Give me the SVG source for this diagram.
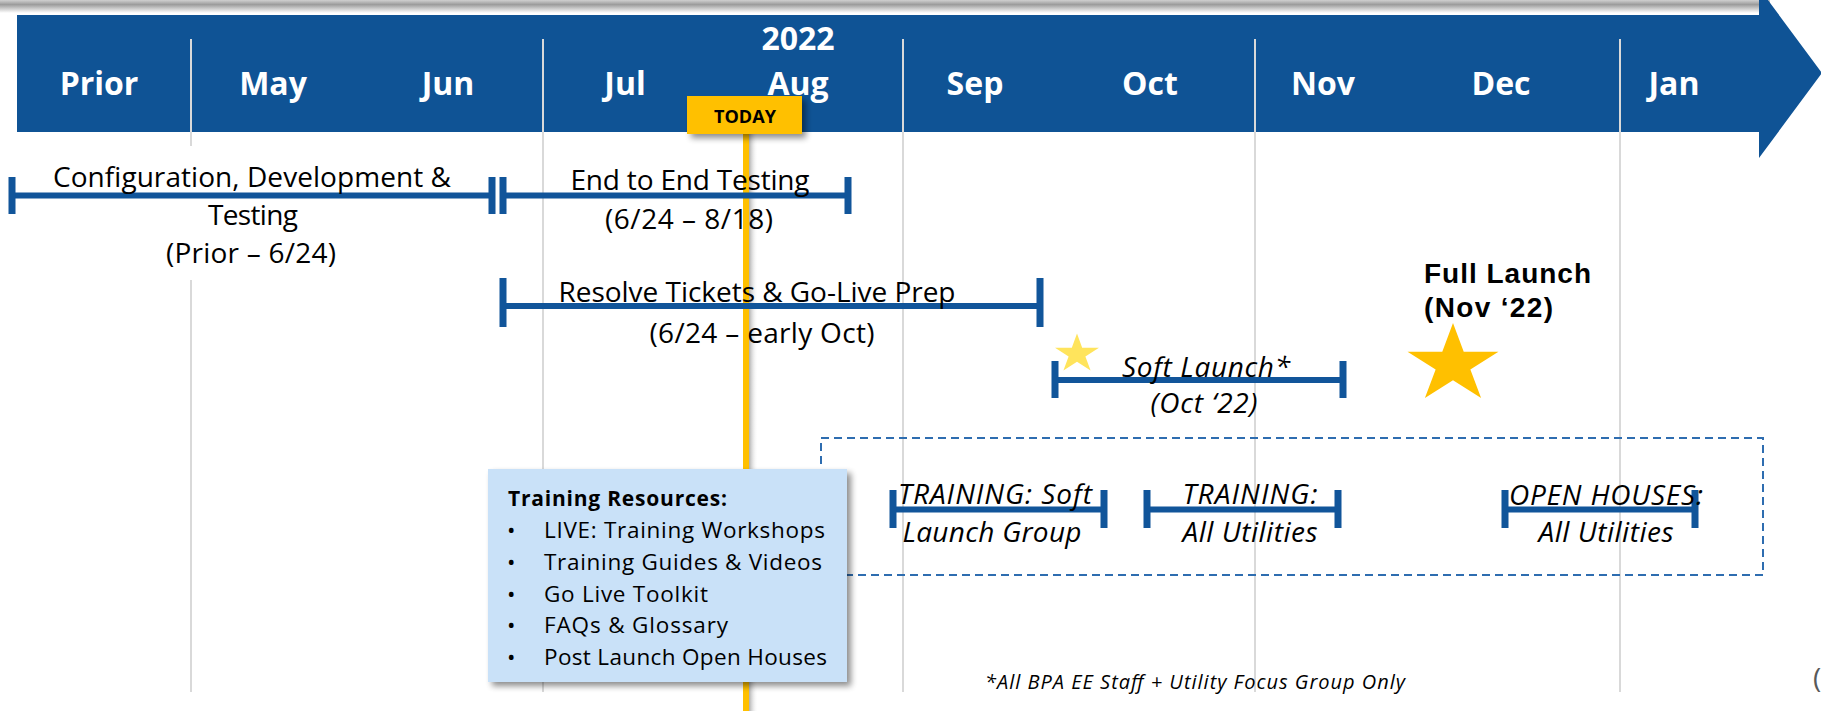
<svg xmlns="http://www.w3.org/2000/svg" xmlns:xlink="http://www.w3.org/1999/xlink" width="1821" height="711" viewBox="0 0 1821 711">
<defs>
<style>
.hdr{font-family:"Open Sans","Liberation Sans",sans-serif;font-weight:700;font-size:32px;fill:#fff;text-anchor:middle}
.lbl{font-family:"Open Sans","Liberation Sans",sans-serif;font-size:28px;fill:#000;text-anchor:middle}
.it{font-family:"Open Sans","Liberation Sans",sans-serif;font-style:italic;font-size:28px;fill:#000;text-anchor:middle}
.bul{font-family:"Open Sans","Liberation Sans",sans-serif;font-size:22.5px;fill:#000}
.grid{stroke:#d9d9d9;stroke-width:2}
.bar{stroke:#11559a;stroke-width:6;fill:none}
.cap{fill:#11559a}
</style>
<linearGradient id="topShadow" x1="0" y1="0" x2="0" y2="1">
<stop offset="0" stop-color="#d0d0d0"/>
<stop offset="0.35" stop-color="#9c9c9c"/>
<stop offset="1" stop-color="#ffffff"/>
</linearGradient>
<linearGradient id="lineShadow" x1="0" y1="0" x2="1" y2="0">
<stop offset="0" stop-color="#9a9a9a" stop-opacity="0.8"/>
<stop offset="1" stop-color="#ffffff" stop-opacity="0"/>
</linearGradient>
<filter id="shadow" x="-10%" y="-10%" width="130%" height="140%">
<feGaussianBlur in="SourceAlpha" stdDeviation="3"/>
<feOffset dx="4" dy="4" result="b"/>
<feComponentTransfer><feFuncA type="linear" slope="0.45"/></feComponentTransfer>
<feMerge><feMergeNode/><feMergeNode in="SourceGraphic"/></feMerge>
</filter>
<path id="star" d="M0,-1 L0.2245,-0.309 L0.9511,-0.309 L0.3633,0.118 L0.5878,0.809 L0,0.382 L-0.5878,0.809 L-0.3633,0.118 L-0.9511,-0.309 L-0.2245,-0.309 Z"/>
</defs>

<rect x="0" y="0" width="1821" height="711" fill="#ffffff"/>

<!-- top shadow edge -->
<rect x="0" y="0" width="1770" height="13" fill="url(#topShadow)"/>

<!-- header arrow band -->
<g id="header">
<path d="M17,15 H1759 V-12 L1822,73 L1759,158 V132 H17 Z" fill="#0f5395"/>
<text class="hdr" x="798" y="50">2022</text>
<text class="hdr" x="99" y="95">Prior</text>
<text class="hdr" x="273" y="95">May</text>
<text class="hdr" x="448" y="95">Jun</text>
<text class="hdr" x="625" y="95">Jul</text>
<text class="hdr" x="798" y="95">Aug</text>
<text class="hdr" x="975" y="95">Sep</text>
<text class="hdr" x="1150" y="95">Oct</text>
<text class="hdr" x="1323" y="95">Nov</text>
<text class="hdr" x="1501" y="95">Dec</text>
<text class="hdr" x="1674" y="95">Jan</text>
</g>

<!-- grid lines -->
<g id="gridlines">
<line class="grid" x1="191" y1="39" x2="191" y2="692"/>
<line class="grid" x1="543" y1="39" x2="543" y2="692"/>
<line class="grid" x1="903" y1="39" x2="903" y2="692"/>
<line class="grid" x1="1255" y1="39" x2="1255" y2="692"/>
<line class="grid" x1="1620" y1="39" x2="1620" y2="692"/>
</g>

<!-- today marker line -->
<g id="today">
<rect x="749" y="134" width="9" height="577" fill="url(#lineShadow)"/>
<rect x="743" y="134" width="6" height="577" fill="#ffc000"/>
<rect x="687" y="96" width="115" height="38" fill="#ffc000" filter="url(#shadow)"/>
<text x="745" y="123" font-family="Open Sans, Liberation Sans, sans-serif" font-weight="700" font-size="18" fill="#000" text-anchor="middle" textLength="62" lengthAdjust="spacingAndGlyphs">TODAY</text>
</g>

<!-- Configuration -->
<g id="config">
<rect x="40" y="146" width="420" height="134" fill="#ffffff"/>
<line class="bar" x1="12" y1="195.5" x2="492" y2="195.5"/>
<rect class="cap" x="8.5" y="177" width="7" height="37"/>
<rect class="cap" x="488.5" y="177" width="7" height="37"/>
<text class="lbl" x="252" y="187" textLength="398">Configuration, Development &amp;</text>
<text class="lbl" x="253" y="225" textLength="90">Testing</text>
<text class="lbl" x="251" y="263" textLength="170">(Prior – 6/24)</text>
</g>

<!-- End to End -->
<g id="e2e">
<line class="bar" x1="503" y1="195.5" x2="848" y2="195.5"/>
<rect class="cap" x="499.5" y="177" width="7" height="37"/>
<rect class="cap" x="844.5" y="177" width="7" height="37"/>
<text class="lbl" x="690" y="190" textLength="239">End to End Testing</text>
<text class="lbl" x="689" y="229" textLength="168">(6/24 – 8/18)</text>
</g>

<!-- Resolve tickets -->
<g id="resolve">
<line class="bar" x1="503" y1="306" x2="1040" y2="306"/>
<rect class="cap" x="499.5" y="278" width="7" height="49"/>
<rect class="cap" x="1036.5" y="278" width="7" height="49"/>
<text class="lbl" x="757" y="302" textLength="397">Resolve Tickets &amp; Go-Live Prep</text>
<text class="lbl" x="762" y="343" textLength="225">(6/24 – early Oct)</text>
</g>

<!-- Soft launch -->
<g id="soft-launch">
<line class="bar" x1="1055" y1="380" x2="1343" y2="380"/>
<rect class="cap" x="1051.5" y="361" width="7" height="37"/>
<rect class="cap" x="1339.5" y="361" width="7" height="37"/>
<use xlink:href="#star" href="#star" transform="translate(1077,354) scale(23.1,20.5)" fill="#ffe45c"/>
<text class="it" x="1206" y="377" textLength="168">Soft Launch*</text>
<text class="it" x="1204" y="413" textLength="107">(Oct ‘22)</text>
</g>

<!-- Full launch -->
<g id="full-launch">
<text x="1424" y="283" font-family="Liberation Sans, Arial, sans-serif" font-weight="700" font-size="28" fill="#000" textLength="167">Full Launch</text>
<text x="1424" y="317" font-family="Liberation Sans, Arial, sans-serif" font-weight="700" font-size="28" fill="#000" textLength="129">(Nov ‘22)</text>
<use xlink:href="#star" href="#star" transform="translate(1453,364.5) scale(47.8,41.5)" fill="#ffc000"/>
</g>

<!-- dashed training region -->
<g id="training-region">
<rect x="821" y="438" width="942" height="137" fill="none" stroke="#2e6db0" stroke-width="2" stroke-dasharray="8,5"/>
</g>

<g id="training-soft">
<line class="bar" x1="893" y1="509.5" x2="1104" y2="509.5"/>
<rect class="cap" x="889.5" y="490" width="7" height="38"/>
<rect class="cap" x="1100.5" y="490" width="7" height="38"/>
<text class="it" x="995" y="504" textLength="194">TRAINING: Soft</text>
<text class="it" x="992" y="542" textLength="179">Launch Group</text>
</g>

<g id="training-all">
<line class="bar" x1="1147" y1="509.5" x2="1338" y2="509.5"/>
<rect class="cap" x="1143.5" y="490" width="7" height="38"/>
<rect class="cap" x="1334.5" y="490" width="7" height="38"/>
<text class="it" x="1250" y="504" textLength="135">TRAINING:</text>
<text class="it" x="1250" y="542" textLength="135">All Utilities</text>
</g>

<g id="open-houses">
<line class="bar" x1="1505" y1="509.5" x2="1695" y2="509.5"/>
<rect class="cap" x="1501.5" y="490" width="7" height="38"/>
<rect class="cap" x="1691.5" y="490" width="7" height="38"/>
<text class="it" x="1606" y="505" textLength="194">OPEN HOUSES:</text>
<text class="it" x="1606" y="542" textLength="135">All Utilities</text>
</g>

<!-- training resources box -->
<g id="training-resources">
<rect x="488" y="469" width="359" height="213" fill="#c9e1f8" filter="url(#shadow)"/>
<text x="508" y="506" font-family="Open Sans, Liberation Sans, sans-serif" font-weight="700" font-size="21" fill="#000" textLength="219">Training Resources:</text>
<text class="bul" x="507" y="538">•</text>
<text class="bul" x="544" y="538" textLength="281">LIVE: Training Workshops</text>
<text class="bul" x="507" y="570">•</text>
<text class="bul" x="544" y="570" textLength="278">Training Guides &amp; Videos</text>
<text class="bul" x="507" y="602">•</text>
<text class="bul" x="544" y="602" textLength="164">Go Live Toolkit</text>
<text class="bul" x="507" y="633">•</text>
<text class="bul" x="544" y="633" textLength="184">FAQs &amp; Glossary</text>
<text class="bul" x="507" y="665">•</text>
<text class="bul" x="544" y="665" textLength="283">Post Launch Open Houses</text>
</g>

<g id="footnote">
<text x="985" y="689" font-family="Open Sans, Liberation Sans, sans-serif" font-style="italic" font-size="20" fill="#000" textLength="420">*All BPA EE Staff + Utility Focus Group Only</text>
<text x="1813" y="688" font-family="Open Sans, Liberation Sans, sans-serif" font-size="28" fill="#595959">(</text>
</g>
</svg>
